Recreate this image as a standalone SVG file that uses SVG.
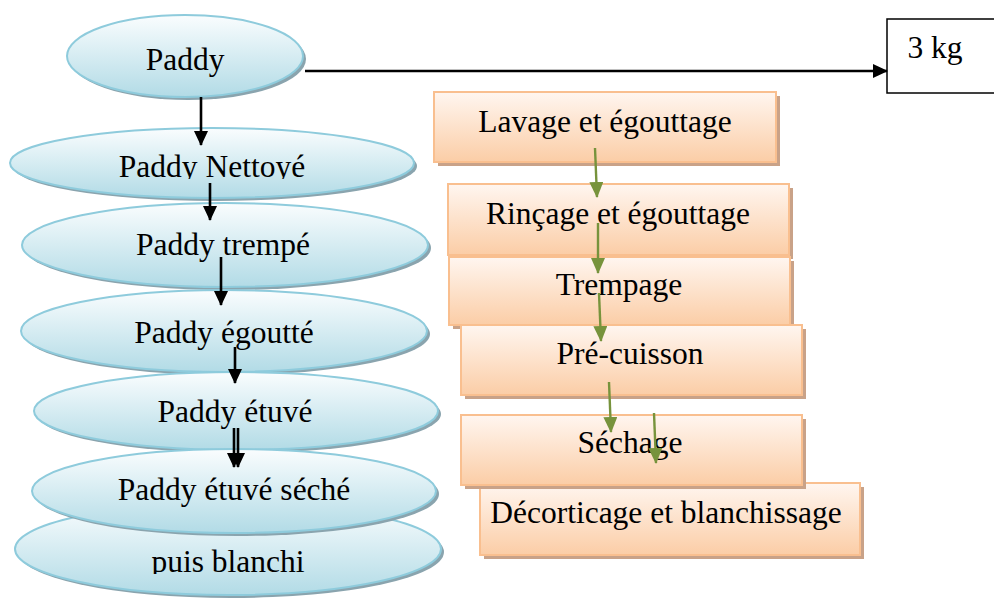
<svg xmlns="http://www.w3.org/2000/svg" width="994" height="601" viewBox="0 0 994 601">
<style>
text{font-family:"Liberation Serif","Times New Roman",serif;font-size:31.5px;fill:#000;text-anchor:middle}
.el{fill:url(#gb);stroke:#8ECBDC;stroke-width:2}
.es{fill:#8AA4AE}
.rc{fill:url(#go);stroke:#F9BF8F;stroke-width:2}
.rs{fill:#C9A288}
.bl{stroke:#000;stroke-width:2.6;fill:none;marker-end:url(#ab)}
.gr{stroke:#77933C;stroke-width:2.4;fill:none;marker-end:url(#ag)}
</style>
<defs>
<linearGradient id="gb" x1="0" y1="0" x2="0" y2="1">
<stop offset="0" stop-color="#FAFDFE"/><stop offset="1" stop-color="#B2DBE6"/>
</linearGradient>
<linearGradient id="go" x1="0" y1="0" x2="0" y2="1">
<stop offset="0" stop-color="#FFF6F0"/><stop offset="1" stop-color="#FBCDA6"/>
</linearGradient>
<marker id="ab" markerUnits="userSpaceOnUse" markerWidth="16" markerHeight="15" refX="14" refY="7" orient="auto">
<path d="M0,0 L15,7 L0,14 z" fill="#000"/>
</marker>
<marker id="ag" markerUnits="userSpaceOnUse" markerWidth="17" markerHeight="15" refX="15" refY="7" orient="auto">
<path d="M0,0 L16,7 L0,14 z" fill="#77933C"/>
</marker>
<clipPath id="c2"><rect x="0" y="120" width="440" height="59"/></clipPath>
<clipPath id="c7"><rect x="0" y="500" width="460" height="74"/></clipPath>
</defs>

<g id="n7">
<ellipse class="es" cx="231" cy="552" rx="213" ry="46"/>
<ellipse class="el" cx="228" cy="549" rx="213" ry="46"/>
<text x="228" y="572" clip-path="url(#c7)">puis blanchi</text>
</g>
<g id="n1">
<ellipse class="es" cx="188" cy="59" rx="118" ry="41"/>
<ellipse class="el" cx="185" cy="56" rx="118" ry="41"/>
<text x="185" y="70">Paddy</text>
</g>
<g id="n2">
<ellipse class="es" cx="215" cy="166" rx="202" ry="35"/>
<ellipse class="el" cx="212" cy="163" rx="202" ry="35"/>
<text x="212" y="177" clip-path="url(#c2)">Paddy Nettoyé</text>
</g>
<g id="n3">
<ellipse class="es" cx="228" cy="248" rx="203" ry="42"/>
<ellipse class="el" cx="225" cy="245" rx="203" ry="42"/>
<text x="223" y="255">Paddy trempé</text>
</g>
<g id="n4">
<ellipse class="es" cx="227" cy="334" rx="203" ry="41"/>
<ellipse class="el" cx="224" cy="331" rx="203" ry="41"/>
<text x="224" y="343">Paddy égoutté</text>
</g>
<g id="n5">
<ellipse class="es" cx="239" cy="414" rx="202" ry="39"/>
<ellipse class="el" cx="236" cy="411" rx="202" ry="39"/>
<text x="235" y="422">Paddy étuvé</text>
</g>
<g id="n6">
<ellipse class="es" cx="237" cy="494" rx="202" ry="42"/>
<ellipse class="el" cx="234" cy="491" rx="202" ry="42"/>
<text x="234" y="500">Paddy étuvé séché</text>
</g>

<g id="n8">
<rect x="887" y="19" width="120" height="74" fill="#fff" stroke="#000" stroke-width="1.5"/>
<text x="935" y="58">3 kg</text>
</g>

<g id="r1">
<rect class="rs" x="438" y="96" width="342" height="70"/>
<rect class="rc" x="434" y="92" width="342" height="70"/>
<text x="605" y="132">Lavage et égouttage</text>
</g>
<g id="r2">
<rect class="rs" x="452" y="188" width="341" height="71"/>
<rect class="rc" x="448" y="184" width="341" height="71"/>
<text x="618" y="224">Rinçage et égouttage</text>
</g>
<g id="r3">
<rect class="rs" x="453" y="261" width="341" height="68"/>
<rect class="rc" x="449" y="257" width="341" height="68"/>
<text x="619" y="295">Trempage</text>
</g>
<g id="r4">
<rect class="rs" x="465" y="329" width="341" height="70"/>
<rect class="rc" x="461" y="325" width="341" height="70"/>
<text x="630" y="364">Pré-cuisson</text>
</g>
<g id="r6">
<rect class="rs" x="484" y="487" width="380" height="72"/>
<rect class="rc" x="480" y="483" width="380" height="72"/>
<text x="666" y="523">Décorticage et blanchissage</text>
</g>
<g id="r5">
<rect class="rs" x="465" y="419" width="341" height="70"/>
<rect class="rc" x="461" y="415" width="341" height="70"/>
<text x="630" y="453">Séchage</text>
</g>

<g id="connectors">
<path class="bl" d="M305,71 H887"/>
<path class="bl" d="M201,97 V145"/>
<path class="bl" d="M210,183 V220"/>
<path class="bl" d="M221,257 V305"/>
<path class="bl" d="M235,347 V383"/>
<path class="bl" d="M234,428 V467"/>
<path class="bl" d="M238,428 V467"/>
<path class="gr" d="M595,148 L597,197"/>
<path class="gr" d="M598,223 L598,273"/>
<path class="gr" d="M599,293 L601,341"/>
<path class="gr" d="M609,382 L611,432"/>
<path class="gr" d="M654,413 L656,463"/>
</g>
</svg>
